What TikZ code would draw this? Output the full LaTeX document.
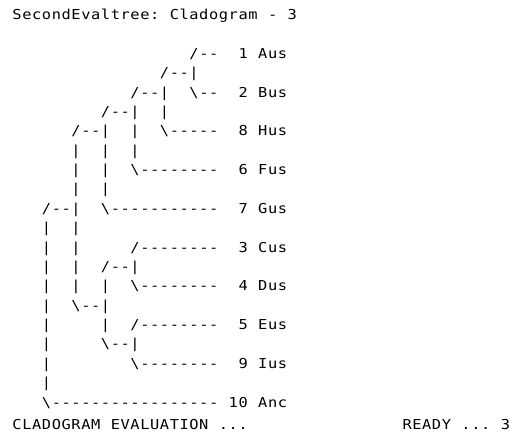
\documentclass[tikz,border=0pt]{standalone}
\usepackage{fontspec}
\newfontfamily\termfont[FakeStretch=1.12]{DejaVu Sans Mono}
\makeatletter
% fixed-pitch terminal cells; "*" marks an empty cell
\newlength\cellw
\setlength\cellw{9.83pt}
\def\blankmark{*}
\newcommand\cells[1]{\@tfor\cx:=#1\do{\makebox[\cellw][c]{\ifx\cx\blankmark\else\cx\fi}}}
\makeatother
\def\bs{\textbackslash}
\begin{document}
\begin{tikzpicture}[x=1pt,y=-1pt,
  termline/.style={anchor=base west, inner sep=0pt,
    font=\termfont\fontsize{13.7}{16}\selectfont}]
\def\xo{12}\def\cp{9.83}\def\yo{19.6}\def\lp{19.375}
\useasboundingbox[fill=white] (0,0) rectangle (517,434);
\node[termline] (row0)  at ({\xo+0*\cp},{\yo+0*\lp})  {\cells{SecondEvaltree:*Cladogram*-*3}};
\node[termline] (row2)  at ({\xo+18*\cp},{\yo+2*\lp}) {\cells{/--**1*Aus}};
\node[termline] (row3)  at ({\xo+15*\cp},{\yo+3*\lp}) {\cells{/--|}};
\node[termline] (row4)  at ({\xo+12*\cp},{\yo+4*\lp}) {\cells{/--|**\bs--**2*Bus}};
\node[termline] (row5)  at ({\xo+9*\cp},{\yo+5*\lp})  {\cells{/--|**|}};
\node[termline] (row6)  at ({\xo+6*\cp},{\yo+6*\lp})  {\cells{/--|**|**\bs-----**8*Hus}};
\node[termline] (row7)  at ({\xo+6*\cp},{\yo+7*\lp})  {\cells{|**|**|}};
\node[termline] (row8)  at ({\xo+6*\cp},{\yo+8*\lp})  {\cells{|**|**\bs--------**6*Fus}};
\node[termline] (row9)  at ({\xo+6*\cp},{\yo+9*\lp})  {\cells{|**|}};
\node[termline] (row10) at ({\xo+3*\cp},{\yo+10*\lp}) {\cells{/--|**\bs-----------**7*Gus}};
\node[termline] (row11) at ({\xo+3*\cp},{\yo+11*\lp}) {\cells{|**|}};
\node[termline] (row12) at ({\xo+3*\cp},{\yo+12*\lp}) {\cells{|**|*****/--------**3*Cus}};
\node[termline] (row13) at ({\xo+3*\cp},{\yo+13*\lp}) {\cells{|**|**/--|}};
\node[termline] (row14) at ({\xo+3*\cp},{\yo+14*\lp}) {\cells{|**|**|**\bs--------**4*Dus}};
\node[termline] (row15) at ({\xo+3*\cp},{\yo+15*\lp}) {\cells{|**\bs--|}};
\node[termline] (row16) at ({\xo+3*\cp},{\yo+16*\lp}) {\cells{|*****|**/--------**5*Eus}};
\node[termline] (row17) at ({\xo+3*\cp},{\yo+17*\lp}) {\cells{|*****\bs--|}};
\node[termline] (row18) at ({\xo+3*\cp},{\yo+18*\lp}) {\cells{|********\bs--------**9*Ius}};
\node[termline] (row19) at ({\xo+3*\cp},{\yo+19*\lp}) {\cells{|}};
\node[termline] (row20) at ({\xo+3*\cp},{\yo+20*\lp}) {\cells{\bs-----------------*10*Anc}};
% status line
\node[termline] (status) at (\xo,429) {\cells{CLADOGRAM*EVALUATION*...}};
\node[termline] (ready)  at (402,429) {\cells{READY*...*3}};
\end{tikzpicture}
\end{document}
